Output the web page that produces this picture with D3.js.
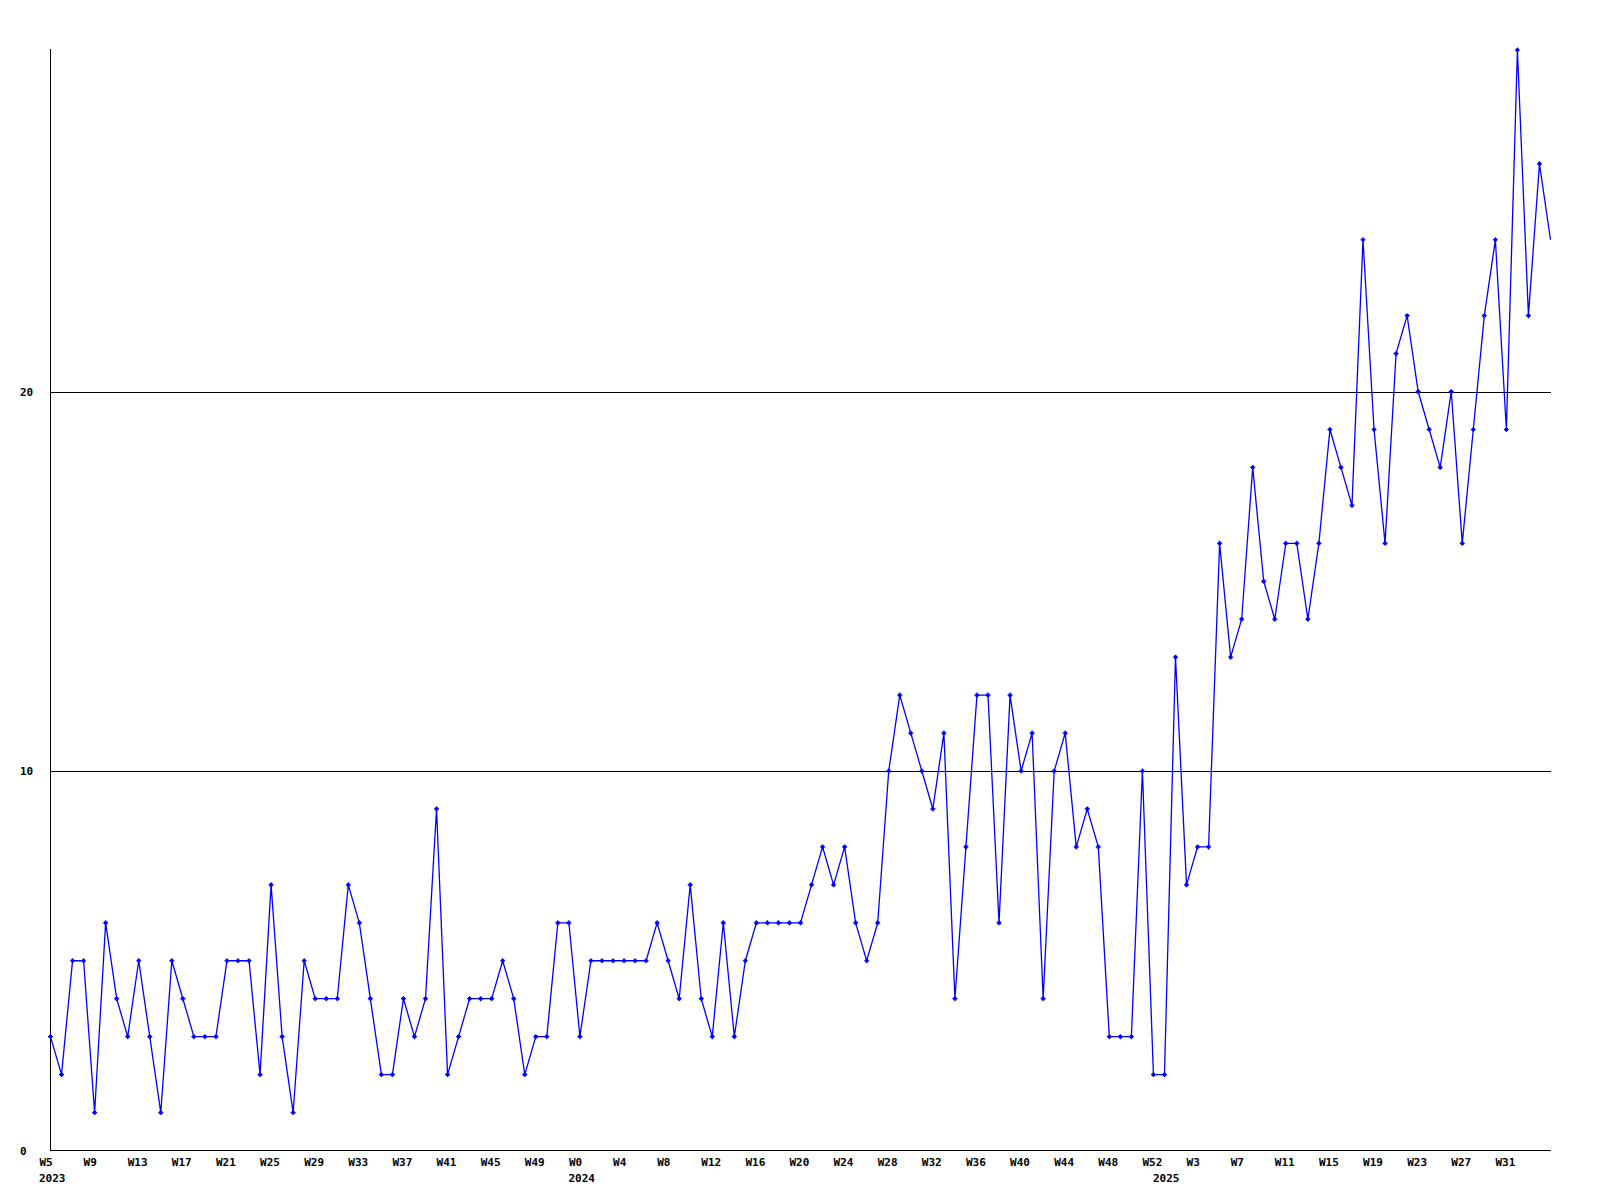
<!DOCTYPE html>
<html>
<head>
<meta charset="utf-8">
<script src="https://cdn.jsdelivr.net/npm/d3@7"></script>
<style>
  html, body { margin: 0; padding: 0; background: #fff; }
  svg { display: block; }
  .lbl { font-family: "DejaVu Sans Mono", "Liberation Mono", monospace; font-size: 11px; font-weight: bold; fill: #000; }
</style>
</head>
<body>
<svg id="chart" width="1600" height="1200"></svg>
<script>
// Weekly categories (year-week)
const categories = [
  "2023-W5","2023-W6","2023-W7","2023-W8","2023-W9","2023-W10","2023-W11","2023-W12","2023-W13","2023-W14",
  "2023-W15","2023-W16","2023-W17","2023-W18","2023-W19","2023-W20","2023-W21","2023-W22","2023-W23","2023-W24",
  "2023-W25","2023-W26","2023-W27","2023-W28","2023-W29","2023-W30","2023-W31","2023-W32","2023-W33","2023-W34",
  "2023-W35","2023-W36","2023-W37","2023-W38","2023-W39","2023-W40","2023-W41","2023-W42","2023-W43","2023-W44",
  "2023-W45","2023-W46","2023-W47","2023-W48","2023-W49","2023-W50","2023-W51","2023-W52",
  "2024-W0","2024-W1","2024-W2","2024-W3","2024-W4","2024-W5","2024-W6","2024-W7","2024-W8","2024-W9",
  "2024-W10","2024-W11","2024-W12","2024-W13","2024-W14","2024-W15","2024-W16","2024-W17","2024-W18","2024-W19",
  "2024-W20","2024-W21","2024-W22","2024-W23","2024-W24","2024-W25","2024-W26","2024-W27","2024-W28","2024-W29",
  "2024-W30","2024-W31","2024-W32","2024-W33","2024-W34","2024-W35","2024-W36","2024-W37","2024-W38","2024-W39",
  "2024-W40","2024-W41","2024-W42","2024-W43","2024-W44","2024-W45","2024-W46","2024-W47","2024-W48","2024-W49",
  "2024-W50","2024-W51","2024-W52",
  "2025-W0","2025-W1","2025-W2","2025-W3","2025-W4","2025-W5","2025-W6","2025-W7","2025-W8","2025-W9",
  "2025-W10","2025-W11","2025-W12","2025-W13","2025-W14","2025-W15","2025-W16","2025-W17","2025-W18","2025-W19",
  "2025-W20","2025-W21","2025-W22","2025-W23","2025-W24","2025-W25","2025-W26","2025-W27","2025-W28","2025-W29",
  "2025-W30","2025-W31","2025-W32","2025-W33","2025-W34","2025-W35"
];

// Weekly counts
const values = [
  3,2,5,5,1,6,4,3,5,3, 1,5,4,3,3,3,5,5,5,2, 7,3,1,5,4,4,4,7,6,4,
  2,2,4,3,4,9,2,3,4,4, 4,5,4,2,3,3,6,6,
  3,5,5,5,5,5,5,6,5,4, 7,4,3,6,3,5,6,6,6,6, 6,7,8,7,8,6,5,6,10,12,
  11,10,9,11,4,8,12,12,6,12, 10,11,4,10,11,8,9,8,3,3, 3,10,2,
  2,13,7,8,8,16,13,14,18,15, 14,16,16,14,16,19,18,17,24,19, 16,21,22,20,19,18,20,16,19,22,
  24,19,29,22,26,24
];

// X tick labels (every 4th week)
const xTickCats = ["2023-W5","2023-W9","2023-W13","2023-W17","2023-W21","2023-W25","2023-W29","2023-W33","2023-W37","2023-W41","2023-W45","2023-W49",
  "2024-W0","2024-W4","2024-W8","2024-W12","2024-W16","2024-W20","2024-W24","2024-W28","2024-W32","2024-W36","2024-W40","2024-W44","2024-W48","2024-W52",
  "2025-W3","2025-W7","2025-W11","2025-W15","2025-W19","2025-W23","2025-W27","2025-W31"];
const xTickLabels = ["W5","W9","W13","W17","W21","W25","W29","W33","W37","W41","W45","W49",
  "W0","W4","W8","W12","W16","W20","W24","W28","W32","W36","W40","W44","W48","W52",
  "W3","W7","W11","W15","W19","W23","W27","W31"];
// Year labels and the first week they sit under
const yearCats = ["2023-W5","2024-W0","2025-W0"];
const yearLabels = ["2023","2024","2025"];
// Y ticks
const yTicks = [0, 10, 20];
const yMax = 29;

const svg = d3.select("#chart");
const mLeft = 50.5, mRight = 1550.5, mTop = 50, mBottom = 1150.5;

const x = d3.scalePoint().domain(categories).range([mLeft, mRight]);
const y = d3.scaleLinear().domain([0, yMax]).range([mBottom, mTop]);

// Horizontal grid lines at 10 and 20
svg.append("g").selectAll("line")
  .data(yTicks.filter(d => d > 0))
  .join("line")
  .attr("x1", mLeft).attr("x2", mRight)
  .attr("y1", d => Math.round(y(d)) + 0.5).attr("y2", d => Math.round(y(d)) + 0.5)
  .attr("stroke", "#000").attr("stroke-width", 1)
  .attr("shape-rendering", "crispEdges");

// Y axis labels
const yAxis = d3.axisLeft(y).tickValues(yTicks).tickSize(0).tickFormat(d3.format("d"));
const gy = svg.append("g").attr("transform", `translate(${mLeft},0)`).call(yAxis);
gy.select(".domain").remove();
gy.attr("font-family", null).attr("font-size", null);
gy.selectAll("text").attr("class", "lbl").attr("x", -30.5).attr("text-anchor", "start")
  .attr("fill", null);

// Axis lines
svg.append("line").attr("x1", mLeft).attr("x2", mLeft).attr("y1", mTop - 1).attr("y2", mBottom)
  .attr("stroke", "#000").attr("shape-rendering", "crispEdges");
svg.append("line").attr("x1", mLeft).attr("x2", mRight).attr("y1", mBottom).attr("y2", mBottom)
  .attr("stroke", "#000").attr("shape-rendering", "crispEdges");

// X axis tick labels
const labelMap = new Map(xTickCats.map((c, i) => [c, xTickLabels[i]]));
const xAxis = d3.axisBottom(x).tickValues(xTickCats).tickSize(0).tickFormat(c => labelMap.get(c));
const gx = svg.append("g").attr("transform", `translate(0,${mBottom})`).call(xAxis);
gx.select(".domain").remove();
gx.attr("font-family", null).attr("font-size", null);
gx.selectAll("text").attr("class", "lbl").attr("text-anchor", "start").attr("x", -11.5)
  .attr("y", 15.5).attr("dy", null).attr("fill", null);

// Year labels
svg.append("g").selectAll("text")
  .data(yearCats)
  .join("text")
  .attr("class", "lbl")
  .attr("x", d => x(d) - 11.5)
  .attr("y", mBottom + 31)
  .text((d, i) => yearLabels[i]);

// Data line
const pts = categories.map((c, i) => ({ c, v: values[i] }));
const line = d3.line().x(d => x(d.c)).y(d => y(d.v));
svg.append("path")
  .datum(pts)
  .attr("d", line)
  .attr("fill", "none")
  .attr("stroke", "#0000ff")
  .attr("stroke-width", 1.3);

// Markers (small crosses); last, incomplete week is not marked
svg.append("g").selectAll("path")
  .data(pts.slice(0, pts.length - 1))
  .join("path")
  .attr("transform", d => `translate(${x(d.c)},${y(d.v)})`)
  .attr("d", "M-2.5,0H2.5M0,-2.5V2.5M-1,-1H1V1H-1Z")
  .attr("fill", "#0000ff")
  .attr("stroke", "#0000ff")
  .attr("stroke-width", 1.2);
</script>
</body>
</html>
